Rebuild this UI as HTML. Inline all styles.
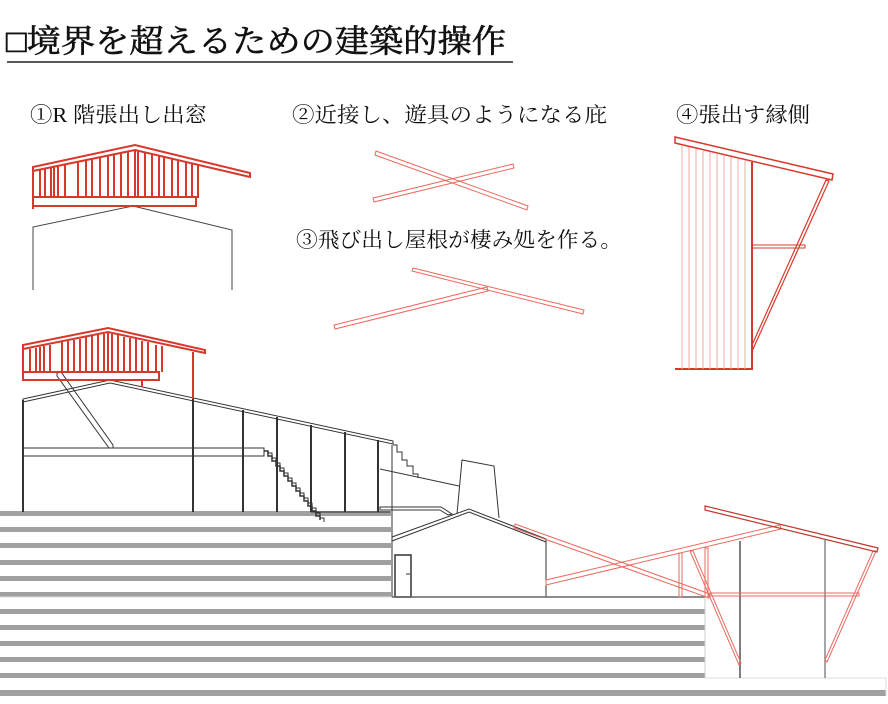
<!DOCTYPE html>
<html><head><meta charset="utf-8"><style>
body{margin:0;background:#fff}
svg{display:block}
text{font-family:"Liberation Serif","Noto Serif CJK SC",serif;fill:#111}
</style></head><body>
<svg width="888" height="704" viewBox="0 0 888 704" xmlns="http://www.w3.org/2000/svg">
<!-- title -->
<text x="6" y="52" font-size="32" textLength="500" lengthAdjust="spacingAndGlyphs" font-family="Liberation Sans,'Noto Sans CJK JP',sans-serif" stroke="#111" stroke-width="0.6">□境界を超えるための建築的操作</text>
<line x1="7" y1="62" x2="513" y2="62" stroke="#222" stroke-width="1.5"/>
<text x="30" y="122" font-size="21" textLength="177" lengthAdjust="spacingAndGlyphs">①R 階張出し出窓</text>
<text x="292" y="122" font-size="21" textLength="315" lengthAdjust="spacingAndGlyphs">②近接し、遊具のようになる庇</text>
<text x="296" y="247" font-size="21" textLength="326" lengthAdjust="spacingAndGlyphs">③飛び出し屋根が棲み処を作る。</text>
<text x="676" y="122" font-size="21" textLength="134" lengthAdjust="spacingAndGlyphs">④張出す縁側</text>

<!-- stripes -->
<g fill="#a0a0a0">
<rect x="0" y="511" width="391" height="5"/><rect x="0" y="527" width="391" height="5"/><rect x="0" y="543" width="391" height="5"/><rect x="0" y="560" width="391" height="5"/><rect x="0" y="576" width="391" height="5"/><rect x="0" y="592" width="391" height="5"/>
<rect x="0" y="609" width="705" height="5"/><rect x="0" y="625" width="705" height="5"/><rect x="0" y="641" width="705" height="5"/><rect x="0" y="657" width="705" height="5"/><rect x="0" y="673" width="705" height="5"/>
<rect x="0" y="690" width="886" height="6"/>
</g>
<g stroke="#ddd" stroke-width="1"><line x1="0" y1="597" x2="705" y2="597"/><line x1="705" y1="678" x2="886" y2="678"/><line x1="886" y1="678" x2="886" y2="696"/></g>

<!-- example 1 -->
<g stroke="#444" stroke-width="1" fill="none">
<polyline points="33,290 33,227 133,206 232,230 232,290"/>
</g>
<g stroke="#d8382c" fill="none" stroke-width="2">
<polygon points="33,167 135,145 250,173 250,177 135,150 33,171"/>
<line x1="135" y1="150" x2="135" y2="198"/>
<rect x="33" y="197" width="163" height="9"/>
<line x1="33" y1="206" x2="33" y2="209"/>
<line x1="33" y1="170" x2="33" y2="198"/>
<line x1="198" y1="164" x2="198" y2="198"/>
<path d="M40 170V198M45 169V198M51 168V198M54 167V198M58 166V198M65 165V198M78 162V198M86 160V198M92 159V198M100 158V198M108 156V198M114 155V198M121 153V198M128 152V198M138 150V198M145 152V198M152 154V198M159 156V198M164 157V198M172 159V198M178 161V198M186 162V198M192 163V198"/>
</g>

<!-- example 2 -->
<g stroke="#e86a60" fill="none" stroke-width="1">
<polygon points="376,151 528,206 527,210 375,155"/>
<polygon points="373,198 513,164 514,168 374,202"/>
</g>
<!-- example 3 -->
<g stroke="#e86a60" fill="none" stroke-width="1">
<polygon points="413,268 584,310 583,314 412,271"/>
<polygon points="334,325 487,287 488,291 335,329"/>
</g>

<!-- example 4 -->
<g stroke="#d8382c" fill="none">
<polygon points="675,137 833,174 832,180 675,143" stroke-width="1.5"/>
<line x1="752" y1="162" x2="752" y2="370" stroke-width="2"/>
<line x1="675" y1="369" x2="753" y2="369" stroke-width="2"/>
<polygon points="826,180 829,181 753,349 752,345" stroke-width="1.2"/>
<rect x="752" y="245" width="53" height="3" stroke-width="1"/>
</g>
<g stroke="#f0a8a0" stroke-width="1">
<path d="M682 146V369M689 147V369M696 149V369M703 151V369M710 152V369M717 154V369M724 155V369M731 157V369M738 159V369M745 160V369"/>
</g>

<!-- main left building -->
<g stroke="#333" fill="none" stroke-width="1">
<polygon points="23,399 110,380 393,441 393,444 110,383 23,402"/>
<line x1="23" y1="400" x2="23" y2="512" stroke-width="2"/>
<line x1="193" y1="399" x2="193" y2="512" stroke-width="2"/>
<line x1="243" y1="410" x2="243" y2="512" stroke-width="2"/>
<line x1="277" y1="417" x2="277" y2="512" stroke-width="2"/>
<line x1="311" y1="425" x2="311" y2="512" stroke-width="2"/>
<line x1="345" y1="432" x2="345" y2="512" stroke-width="2"/>
<line x1="378" y1="440" x2="378" y2="512" stroke-width="2"/>
<rect x="23" y="448" width="241" height="8"/>
<polygon points="57,373 61,372 113,445 113,448 109,448 57,376"/>
<path d="M264 451h4v5h4v5h4v5h4v5h4v5h4v5h4v5h4v5h4v5h4v5h4v5h4v5h4v5h4v4" stroke-width="1.5"/>
<path d="M268 453h4v5h4v5h4v5h4v5h4v5h4v5h4v5h4v5h4v5h4v5h4v5h4v5h4v5h4v4"/>
<line x1="311" y1="512" x2="390" y2="512"/>
<path d="M393 445l4 0v7h5v8h5v6h6v8h5v4"/>
<line x1="380" y1="469" x2="459" y2="486"/>
<line x1="392" y1="445" x2="392" y2="597"/>
<polyline points="457,514 462,460 494,466 499,518"/>
<polygon points="380,507 441,507 452,514 448,515 440,510 380,510"/>
<polygon points="392,537 469,509 546,539 546,542 469,512 392,541"/>
<line x1="546" y1="541" x2="546" y2="597"/>
<rect x="395" y="555" width="16" height="42" stroke-width="1.5"/>
<line x1="406" y1="574" x2="410" y2="574"/>
<line x1="392" y1="597" x2="705" y2="597" stroke="#666" stroke-width="1.5"/>
<line x1="705" y1="597" x2="705" y2="678" stroke="#ccc"/>
<line x1="740" y1="541" x2="740" y2="678" stroke="#555" stroke-width="1.5"/>
<line x1="825" y1="540" x2="825" y2="678" stroke="#888" stroke-width="1.5"/>
</g>
<!-- red on main -->
<g stroke="#d8382c" fill="none" stroke-width="2">
<polygon points="23,345 108,328 205,350 205,353 108,332 23,349"/>
<line x1="108" y1="332" x2="108" y2="372"/>
<rect x="23" y="372" width="136" height="8"/>
<line x1="23" y1="348" x2="23" y2="381"/>
<line x1="193" y1="352" x2="193" y2="399" stroke-width="2"/>
<line x1="142" y1="380" x2="142" y2="387"/>
<path d="M30 349V372M36 348V372M40 347V372M44 346V372M50 345V372M62 342V372M68 341V372M74 340V372M80 339V372M86 337V372M92 336V372M98 335V372M104 334V372M112 334V372M118 335V372M124 337V372M130 338V372M136 339V372M142 341V372M148 342V372M156 345V372M162 346V372"/>
</g>
<g stroke="#e86a60" fill="none" stroke-width="1">
<polygon points="515,524 710,594 709,598 514,528"/>
<polygon points="546,580 780,525 781,529 546,585"/>
<rect x="679" y="553" width="3" height="44"/>
<rect x="705" y="548" width="3" height="49"/>
<polygon points="690,551 693,551 741,663 739,665"/>
<polygon points="873,551 876,551 827,662 825,660"/>
<rect x="710" y="593" width="149" height="3"/>
</g>
<polygon points="705,506 878,548 877,552 705,510" fill="none" stroke="#c03a30" stroke-width="1.2"/>
</svg>
</body></html>
